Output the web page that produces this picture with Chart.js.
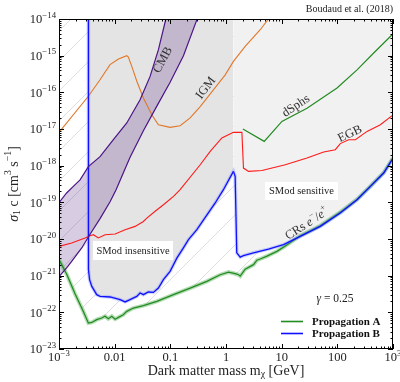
<!DOCTYPE html>
<html>
<head>
<meta charset="utf-8">
<script src="https://cdn.jsdelivr.net/npm/chart.js@4.4.0/dist/chart.umd.min.js"></script>
<style>
  html, body { margin: 0; padding: 0; background: #fff; }
  canvas { display: block; }
</style>
</head>
<body>
<canvas id="chart" width="400" height="382"></canvas>
<script>
// valori (massa in GeV, sigma in cm^3 s^-1)
const igmMass = [1.0e-3, 3.37e-3, 5.46e-3, 8.26e-3, 1.17e-2, 1.65e-2, 1.76e-2, 2.03e-2, 2.5e-2, 3.28e-2, 4.65e-2, 6.1e-2, 0.099, 0.15, 0.227, 0.344, 0.968, 1.36, 2.21, 4.12, 5.8, 7.5];
const igmSigma = [8.1e-18, 7.8e-17, 2.2e-16, 5.7e-16, 8.1e-16, 1.0e-15, 9.2e-16, 5.1e-16, 2.0e-16, 7.0e-17, 2.45e-17, 1.31e-17, 1.11e-17, 1.23e-17, 2.0e-17, 4.1e-17, 3.0e-16, 7.0e-16, 1.79e-15, 5.1e-15, 1.0e-14, 1.6e-14];

const egbMass = [1.0e-3, 1.69e-3, 2.94e-3, 3.61e-3, 4.14e-3, 5.09e-3, 6.72e-3, 1.02e-2, 1.54e-2, 2.33e-2, 3.28e-2, 3.78e-2, 5.33e-2, 7.52e-2, 0.114, 0.150, 0.344, 0.520, 0.843, 1.36, 1.93, 2.06, 2.54, 4.42, 11.6, 28.5, 56.8, 92, 113, 160, 211, 342, 593, 964, 1000];
const egbSigma = [6.3e-21, 7.8e-21, 1.07e-20, 1.23e-20, 1.31e-20, 1.07e-20, 1.31e-20, 1.37e-20, 1.8e-20, 2.21e-20, 3.0e-20, 3.7e-20, 5.7e-20, 8.6e-20, 1.45e-19, 2.21e-19, 1.06e-18, 2.45e-18, 5.7e-18, 8.1e-18, 8.1e-18, 8.6e-19, 7.0e-19, 7.4e-19, 1.06e-18, 1.62e-18, 2.36e-18, 2.73e-18, 4.0e-18, 5.1e-18, 5.1e-18, 8.6e-18, 1.31e-17, 2.31e-17, 2.45e-17];

const dsphMass = [2.01, 4.86, 10.1, 28.5, 98.8, 226, 450, 964, 1000];
const dsphSigma = [1.0e-17, 4.6e-18, 1.61e-17, 3.7e-17, 1.31e-16, 4.1e-16, 1.18e-15, 3.73e-15, 3.9e-15];

const cmbUpperMass = [1.0e-3, 1.37e-3, 1.81e-3, 2.39e-3, 3.37e-3, 5.46e-3, 9.48e-3, 1.65e-2, 2.86e-2, 4.33e-2, 6.11e-2, 8.3e-2, 0.12, 0.4];
const cmbUpperSigma = [9.8e-20, 1.8e-19, 2.72e-19, 4.1e-19, 9.4e-19, 1.76e-18, 5.1e-18, 1.46e-17, 6.3e-17, 2.72e-16, 1.46e-15, 1.0e-14, 1e-13, 1e-11];
const cmbLowerMass = [1.0e-3, 1.37e-3, 1.69e-3, 2.56e-3, 3.61e-3, 5.46e-3, 8.26e-3, 1.06e-2, 1.89e-2, 3.28e-2, 5.72e-2, 9.91e-2, 0.172, 0.30, 0.4];
const cmbLowerSigma = [9.4e-22, 1.62e-21, 2.45e-21, 5.7e-21, 1.35e-20, 3.6e-20, 1.04e-19, 2.21e-19, 1.7e-18, 9.0e-18, 4.2e-17, 1.89e-16, 1.0e-15, 9.6e-15, 4e-14];

const propAMass = [1.0e-3, 1.39e-3, 1.94e-3, 2.70e-3, 3.37e-3, 3.88e-3, 4.76e-3, 5.86e-3, 6.72e-3, 7.71e-3, 8.87e-3, 1.02e-2, 1.17e-2, 1.43e-2, 1.65e-2, 2.17e-2, 3.28e-2, 5.72e-2, 0.114, 0.227, 0.453, 0.787, 1.11, 1.46, 1.68, 1.80, 2.21, 3.12, 3.59, 4.12, 5.44, 8.22, 10.8, 21.6, 49.4, 113, 226, 393, 681, 964, 1020];
const propASigma = [2.73e-21, 1.06e-21, 3.2e-22, 1.11e-22, 5.1e-23, 5.3e-23, 6.3e-23, 7.0e-23, 7.8e-23, 6.7e-23, 7.8e-23, 6.5e-23, 7.3e-23, 8.6e-23, 1.06e-22, 1.31e-22, 1.52e-22, 1.99e-22, 3.03e-22, 4.6e-22, 7.0e-22, 1.06e-21, 1.25e-21, 1.13e-21, 1.06e-21, 9.7e-22, 1.5e-21, 2.0e-21, 2.64e-21, 2.85e-21, 3.4e-21, 4.6e-21, 6.0e-21, 1.23e-20, 2.3e-20, 5.4e-20, 1.2e-19, 2.75e-19, 6.4e-19, 1.48e-18, 1.62e-18];

// propagazione B: parte sotto 1.4 GeV (SMod insensitive) e parte sopra
const propBMass1 = [3.37e-3, 3.38e-3, 3.54e-3, 3.88e-3, 4.76e-3, 5.46e-3, 8.26e-3, 1.25e-2, 1.54e-2, 1.89e-2, 2.5e-2, 2.86e-2, 3.28e-2, 4.03e-2, 4.96e-2, 6.11e-2, 7.52e-2, 9.91e-2, 0.131, 0.172, 0.212, 0.30, 0.64, 0.90, 1.36];
const propBSigma1 = [2e-14, 1.46e-21, 7.8e-22, 5.1e-22, 3.03e-22, 2.72e-22, 2.62e-22, 2.21e-22, 1.92e-22, 2.21e-22, 2.72e-22, 3.37e-22, 3.03e-22, 3.59e-22, 3.5e-22, 4.6e-22, 7.8e-22, 1.31e-21, 3.0e-21, 5.7e-21, 9.6e-21, 1.8e-20, 9.6e-20, 2.21e-19, 7.0e-19];
const propBMass2 = [1.36, 1.46, 1.56, 1.80, 2.06, 3.12, 5.81, 10.8, 21.6, 49.4, 113, 226, 393, 681, 964, 1020];
const propBSigma2 = [7.0e-19, 5.1e-19, 4.2e-21, 3.2e-21, 3.5e-21, 4.2e-21, 5.3e-21, 7.0e-21, 1.18e-20, 2.21e-20, 5.1e-20, 1.18e-19, 2.72e-19, 6.3e-19, 1.46e-18, 1.6e-18];

const xTickValues = [1e-3, 1e-2, 1e-1, 1, 10, 100, 1e3];
const xTickLabels = ['10^−3', '0.01', '0.1', '1', '10', '100', '10^3'];
const yTickValues = [1e-14, 1e-15, 1e-16, 1e-17, 1e-18, 1e-19, 1e-20, 1e-21, 1e-22, 1e-23];
const yTickLabels = ['10^−14', '10^−15', '10^−16', '10^−17', '10^−18', '10^−19', '10^−20', '10^−21', '10^−22', '10^−23'];

const SERIF = "'Liberation Serif', 'DejaVu Serif', serif";

function zip(xs, ys) {
  return xs.map(function (x, i) { return { x: x, y: ys[i] }; });
}

// testo con apici/pedici: parti [testo, tipo]
function richText(ctx, parts, x, y, size, align) {
  var pieces = parts.map(function (p) {
    var k = p[1] || 'n';
    var small = (k === 'sup' || k === 'sub');
    var s = small ? size * 0.7 : size;
    var f = (k === 'i' ? 'italic ' : (k === 'b' ? 'bold ' : '')) + s + 'px ' + SERIF;
    ctx.font = f;
    return { t: p[0], f: f, w: ctx.measureText(p[0]).width, dy: k === 'sup' ? -size * 0.38 : (k === 'sub' ? size * 0.25 : 0) };
  });
  var total = pieces.reduce(function (a, p) { return a + p.w; }, 0);
  var cx = align === 'center' ? x - total / 2 : (align === 'right' ? x - total : x);
  ctx.textAlign = 'left';
  ctx.textBaseline = 'middle';
  pieces.forEach(function (p) {
    ctx.font = p.f;
    ctx.fillText(p.t, cx, y + p.dy);
    cx += p.w;
  });
  return total;
}

function labelParts(s) {
  var bits = s.split('^');
  return bits.length > 1 ? [[bits[0], 'n'], [bits[1], 'sup']] : [[s, 'n']];
}

function rotatedText(ctx, parts, x, y, deg, size) {
  ctx.save();
  ctx.translate(x, y);
  ctx.rotate(deg * Math.PI / 180);
  richText(ctx, parts, 0, 0, size, 'center');
  ctx.restore();
}

function boxedText(ctx, text, x, y, w, h, size) {
  ctx.fillStyle = '#ffffff';
  ctx.fillRect(x, y, w, h);
  ctx.fillStyle = '#222';
  richText(ctx, [[text, 'n']], x + w / 2, y + h / 2 + 0.5, size, 'center');
}

// tratteggio diagonale per la zona sopra la propagazione A
var mainCtx = document.getElementById('chart').getContext('2d');
var tile = document.createElement('canvas');
tile.width = 30; tile.height = 30;
var tg = tile.getContext('2d');
tg.strokeStyle = '#d6d6d6';
tg.lineWidth = 0.8;
tg.beginPath();
tg.moveTo(-3, 33); tg.lineTo(33, -3);
tg.moveTo(-3, 3); tg.lineTo(3, -3);
tg.moveTo(27, 33); tg.lineTo(33, 27);
tg.stroke();
var hatch = mainCtx.createPattern(tile, 'repeat');

var decor = {
  id: 'decor',
  beforeDraw: function (chart) {
    var ctx = chart.ctx;
    ctx.save();
    ctx.fillStyle = '#ffffff';
    ctx.fillRect(0, 0, chart.width, chart.height);
    ctx.restore();
  },
  afterDraw: function (chart) {
    var ctx = chart.ctx;
    var a = chart.chartArea;
    var sx = chart.scales.x, sy = chart.scales.y;
    ctx.save();

    // annotazioni
    ctx.fillStyle = '#333';
    rotatedText(ctx, [['CMB', 'n']], 163, 60, -62, 12.5);
    rotatedText(ctx, [['IGM', 'n']], 206, 88, -53, 12.5);
    rotatedText(ctx, [['dSphs', 'n']], 296, 106, -34, 12.5);
    rotatedText(ctx, [['EGB', 'n']], 350, 134, -25, 12.5);
    rotatedText(ctx, [['CRs ', 'n'], ['e', 'i'], ['−', 'sup'], ['/', 'n'], ['e', 'i'], ['+', 'sup']], 307, 224, -33, 12.5);
    boxedText(ctx, 'SMod sensitive', 265, 182, 73, 18, 10.5);
    boxedText(ctx, 'SMod insensitive', 93, 241, 80, 19, 10.5);

    ctx.fillStyle = '#222';
    richText(ctx, [['γ', 'i'], [' = 0.25', 'n']], 335, 299, 11.5, 'center');

    // legenda
    ctx.lineWidth = 1.6;
    ctx.strokeStyle = '#228b22';
    ctx.beginPath(); ctx.moveTo(281, 321.5); ctx.lineTo(303, 321.5); ctx.stroke();
    ctx.strokeStyle = '#1010ff';
    ctx.beginPath(); ctx.moveTo(281, 333.5); ctx.lineTo(303, 333.5); ctx.stroke();
    ctx.fillStyle = '#111';
    richText(ctx, [['Propagation A', 'b']], 312, 322, 11, 'left');
    richText(ctx, [['Propagation B', 'b']], 312, 334.5, 11, 'left');

    // cornice
    ctx.strokeStyle = '#000';
    ctx.lineWidth = 1;
    ctx.strokeRect(a.left + 0.5, a.top + 0.5, a.right - a.left - 1, a.bottom - a.top - 1);

    // tacche interne sui quattro lati
    ctx.beginPath();
    var d, m, v, p;
    for (d = -3; d <= 3; d++) {
      for (m = 1; m <= 9; m++) {
        v = m * Math.pow(10, d);
        if (v > 1000.001) break;
        p = Math.round(sx.getPixelForValue(v)) + 0.5;
        var len = m === 1 ? 5 : 2.5;
        ctx.moveTo(p, a.bottom); ctx.lineTo(p, a.bottom - len);
        ctx.moveTo(p, a.top); ctx.lineTo(p, a.top + len);
      }
    }
    for (d = -23; d <= -14; d++) {
      for (m = 1; m <= 9; m++) {
        v = m * Math.pow(10, d);
        if (v > 1.0001e-14) break;
        p = Math.round(sy.getPixelForValue(v)) + 0.5;
        var len2 = m === 1 ? 5 : 2.5;
        ctx.moveTo(a.left, p); ctx.lineTo(a.left + len2, p);
        ctx.moveTo(a.right, p); ctx.lineTo(a.right - len2, p);
      }
    }
    ctx.stroke();

    // etichette degli assi
    ctx.fillStyle = '#222';
    xTickValues.forEach(function (val, i) {
      richText(ctx, labelParts(xTickLabels[i]), sx.getPixelForValue(val), a.bottom + 9, 12.5, 'center');
    });
    yTickValues.forEach(function (val, i) {
      richText(ctx, labelParts(yTickLabels[i]), a.left - 3, sy.getPixelForValue(val) + 1, 12.5, 'right');
    });

    richText(ctx, [['Dark matter mass m', 'n'], ['χ', 'sub'], [' [GeV]', 'n']], (a.left + a.right) / 2, 371, 14, 'center');
    ctx.save();
    ctx.translate(14, (a.top + a.bottom) / 2);
    ctx.rotate(-Math.PI / 2);
    richText(ctx, [['σ', 'i'], ['1', 'sub'], [' c [cm', 'n'], ['3', 'sup'], [' s', 'n'], ['−1', 'sup'], [']', 'n']], 0, 0, 14, 'center');
    ctx.restore();

    richText(ctx, [['Boudaud et al. (2018)', 'n']], a.right, 9, 10, 'right');
    ctx.restore();
  }
};

function lineSet(data, color, width, fill, bg) {
  return {
    data: data,
    showLine: true,
    borderColor: color,
    borderWidth: width,
    pointRadius: 0,
    tension: 0,
    fill: fill,
    backgroundColor: bg || 'transparent',
    clip: 0
  };
}

var propBAll = zip(propBMass1.concat(propBMass2), propBSigma1.concat(propBSigma2));

new Chart(mainCtx, {
  type: 'scatter',
  data: {
    datasets: [
      lineSet(zip(cmbUpperMass, cmbUpperSigma), '#4a1486', 1.2, '+1', 'rgba(90, 40, 140, 0.24)'),
      lineSet(zip(cmbLowerMass, cmbLowerSigma), '#4a1486', 1.2, false),
      lineSet(zip(propBMass1, propBSigma1), '#1010ff', 1.3, 'end', '#e4e4e4'),
      lineSet(zip(propBMass2, propBSigma2), '#1010ff', 1.3, 'end', '#f1f1f1'),
      lineSet(propBAll, 'rgba(100, 120, 255, 0.32)', 3.5, false),
      lineSet(zip(propAMass, propASigma), '#228b22', 1.3, 'end', hatch),
      lineSet(zip(propAMass, propASigma), 'rgba(60, 165, 60, 0.38)', 4, false),
      lineSet(zip(igmMass, igmSigma), '#e0782a', 1.1, false),
      lineSet(zip(egbMass, egbSigma), '#ff1a1a', 1.1, false),
      lineSet(zip(dsphMass, dsphSigma), '#228b22', 1.2, false)
    ]
  },
  options: {
    responsive: false,
    animation: false,
    layout: { padding: { left: 59, right: 7, top: 19, bottom: 33 } },
    plugins: {
      legend: { display: false },
      tooltip: { enabled: false },
      filler: { drawTime: 'beforeDatasetsDraw' }
    },
    scales: {
      x: { type: 'logarithmic', min: 1e-3, max: 1e3, display: false },
      y: { type: 'logarithmic', min: 1e-23, max: 1e-14, display: false }
    }
  },
  plugins: [decor]
});
</script>
</body>
</html>
